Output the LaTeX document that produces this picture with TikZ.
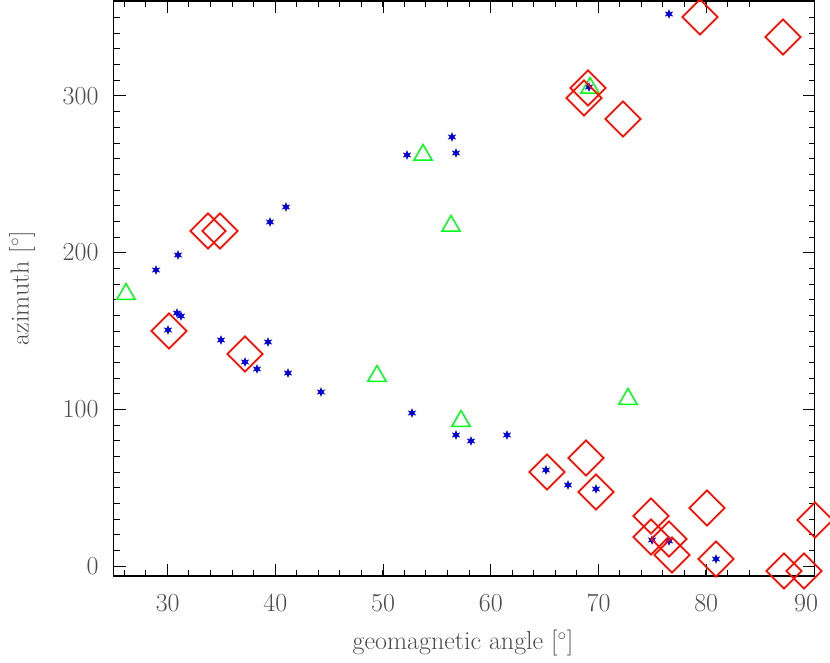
\documentclass[tikz,border=0pt]{standalone}
\usepackage{fontspec}
\usetikzlibrary{shapes.geometric}
\begin{document}
\begin{tikzpicture}[x=1pt,y=-1pt,
  dia/.style={draw=red!90!orange, line width=1.8pt, shape=diamond, minimum width=36pt, minimum height=36pt, inner sep=0pt},
  tri/.style={draw=green!90!cyan, line width=1.5pt, regular polygon, regular polygon sides=3, minimum size=21pt, inner sep=0pt},
  star/.style={shape=star, star points=6, star point ratio=2.2, fill=blue!85!black, draw=blue!85!black, line width=0.6pt, minimum size=8pt, inner sep=0pt},
  lab/.style={text=black!70, font=\fontsize{26}{26}\selectfont\addfontfeature{LetterSpace=15}},
  ttl/.style={text=black!70, font=\fontsize{26}{26}\selectfont\addfontfeature{LetterSpace=25}}]
\useasboundingbox (0,0) rectangle (830,663);
\draw[line width=1.2pt] (113.5,1) rectangle (814.5,576);
\foreach \k in {0,...,32}{
  \pgfmathsetmacro\xx{113.5+10.77*(2*\k-5)}
  \ifdim\xx pt>114pt \draw[line width=0.8pt] (\xx,576) -- ++(0,-6) (\xx,1) -- ++(0,6); \fi}
\foreach \k/\t in {0/30,1/40,2/50,3/60,4/70,5/80}{
  \draw[line width=0.8pt] (167.7+107.7*\k,576) -- ++(0,-12) (167.7+107.7*\k,1) -- ++(0,12);
  \node[lab] (xl\k) at (167.7+107.7*\k,603) {\t};}
\node[lab] (xl6) at (806,603) {90};
\foreach \k in {0,...,36}{
  \pgfmathsetmacro\yy{566-15.67*\k}
  \draw[line width=0.8pt] (113.5,\yy) -- ++(6,0) (814.5,\yy) -- ++(-6,0);}
\foreach \k/\t in {0/0,1/100,2/200,3/300}{
  \draw[line width=0.8pt] (113.5,566-156.7*\k) -- ++(12,0) (814.5,566-156.7*\k) -- ++(-12,0);
  \node[lab,anchor=east] (yl\k) at (102,566-156.7*\k) {\t};}
\node[ttl] (xt) at (463,643) {geomagnetic angle [$^\circ$]};
\node[ttl,rotate=90] (yt) at (22,288) {azimuth [$^\circ$]};
\foreach \p in {(669,14),(589,87),(452,137),(456,153),(407,155),(286,207),(270,222),(178,255),(156,270),(177,313),(181,316),(168,330),(221,340),(268,342),(245,362),(257,369),(288,373),(321,392),(412,413),(456,435),(471,441),(507,435),(546,470),(568,485),(596,489),(652,540),(669,541),(716,559)}
  \node[star] at \p {};
\foreach \p in {(126,294),(423,155),(451,226),(377,376),(461,421),(628,399),(590,88)}
  \node[tri] at \p {};
\foreach \p in {(700,17),(783,37),(584,98),(588,88),(623,119),(208,231),(220,231),(169,331),(245,354),(547,472),(586,458),(596,492),(651,516),(707,508),(651,537),(669,539),(672,555),(716,559),(784,571),(804,571),(815,520)}
  \node[dia] at \p {};
\end{tikzpicture}
\end{document}
